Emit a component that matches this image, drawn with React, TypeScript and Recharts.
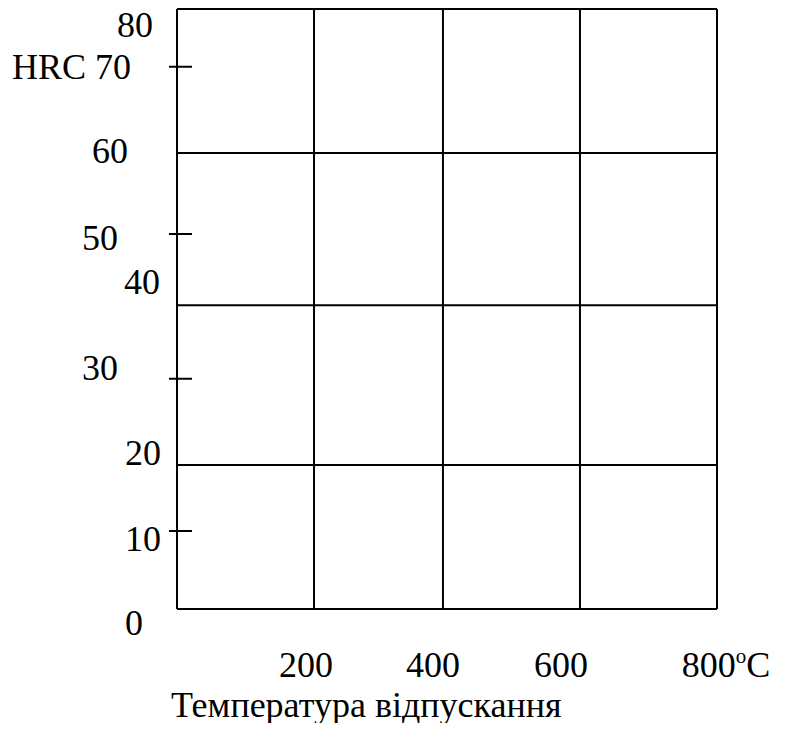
import React from 'react';
import { ComposedChart, XAxis, YAxis, ReferenceLine, Label } from 'recharts';

// ---- data ----
const xTickLabels = [200, 400, 600, 800];
const xUnit = 'C';
const xTitle = 'Температура відпускання';
const yTickLabels = [0, 10, 20, 30, 40, 50, 60, 70, 80];
const yTitle = 'HRC';
const xGridValues = [203, 394, 597];
const yGridValues = [19.2, 40.5, 60.8];
const yTickMarkValues = [10.4, 30.7, 50, 72.3];
const xDomain: [number, number] = [0, 800];
const yDomain: [number, number] = [0, 80];

const data = xTickLabels.map((x) => ({ x }));

const FONT = "'Liberation Serif', 'DejaVu Serif', 'Times New Roman', serif";
const FS = 36;

// label placement (styles)
const yLabelOffsets: Record<number, [number, number]> = {
  0: [-34, 26],
  10: [-16, 17],
  20: [-16, 6],
  30: [-59, -4],
  40: [-17, -15],
  50: [-59, 16],
  60: [-49, 4],
  70: [-46, -5],
  80: [-24, 28],
};
const xLabelOffsets: Record<number, number> = { 200: -6, 400: -14, 600: -21, 800: 9 };

const YLabelTick = (props: any) => {
  const { x, y, payload } = props;
  const v = payload.value;
  const [dx, dy] = yLabelOffsets[v] || [0, 0];
  const txt = v === 70 ? `${yTitle} ${v}` : `${v}`;
  return (
    <text x={x + dx} y={y + dy} textAnchor="end" fontFamily={FONT} fontSize={FS} fill="#000">
      {txt}
    </text>
  );
};

const MarkTick = (props: any) => {
  const { x, y } = props;
  return <line x1={x - 8} x2={x + 15} y1={y} y2={y} stroke="#000" strokeWidth={2} />;
};

const XLabelTick = (props: any) => {
  const { x, y, payload } = props;
  const v = payload.value;
  const dx = xLabelOffsets[v] || 0;
  const last = v === xTickLabels[xTickLabels.length - 1];
  return (
    <text x={x + dx} y={y + 68} textAnchor="middle" fontFamily={FONT} fontSize={FS} fill="#000">
      {v}
      {last ? (
        <>
          <tspan fontSize={21} dy={-14}>o</tspan>
          <tspan dy={14}>{xUnit}</tspan>
        </>
      ) : null}
    </text>
  );
};

const TitleLabel = (props: any) => {
  const vb = props.viewBox || { x: 0, y: 0 };
  return (
    <text x={vb.x - 6} y={vb.y + 108} textAnchor="start" fontFamily={FONT} fontSize={FS} fill="#000">
      {xTitle}
    </text>
  );
};

export default function App() {
  return (
    <div style={{ width: 779, height: 731, marginTop: -8, marginBottom: -8 }}>
      <ComposedChart
        width={779}
        height={731}
        data={data}
        margin={{ top: 9, right: 70, bottom: 62, left: 69 }}
      >
        <XAxis
          dataKey="x"
          type="number"
          domain={xDomain}
          allowDataOverflow
          ticks={xTickLabels}
          interval={0}
          tick={<XLabelTick />}
          tickLine={false}
          axisLine={false}
          tickSize={0}
          tickMargin={0}
          height={60}
        >
          <Label content={<TitleLabel />} />
        </XAxis>
        <YAxis
          type="number"
          domain={yDomain}
          allowDataOverflow
          ticks={yTickLabels}
          interval={0}
          tick={<YLabelTick />}
          tickLine={false}
          axisLine={false}
          tickSize={0}
          tickMargin={0}
          width={100}
        />
        <YAxis
          yAxisId="marks"
          type="number"
          domain={yDomain}
          allowDataOverflow
          ticks={yTickMarkValues}
          interval={0}
          mirror
          tick={<MarkTick />}
          tickLine={false}
          axisLine={false}
          tickSize={0}
          tickMargin={0}
          width={1}
        />
        {yGridValues.map((v) => (
          <ReferenceLine key={`h${v}`} y={v} stroke="#000" strokeWidth={2} />
        ))}
        {xGridValues.map((v) => (
          <ReferenceLine key={`v${v}`} x={v} stroke="#000" strokeWidth={2} />
        ))}
        <ReferenceLine y={yDomain[0]} stroke="#000" strokeWidth={2} />
        <ReferenceLine y={yDomain[1]} stroke="#000" strokeWidth={2} />
        <ReferenceLine x={xDomain[0]} stroke="#000" strokeWidth={2} />
        <ReferenceLine x={xDomain[1]} stroke="#000" strokeWidth={2} />
      </ComposedChart>
    </div>
  );
}
